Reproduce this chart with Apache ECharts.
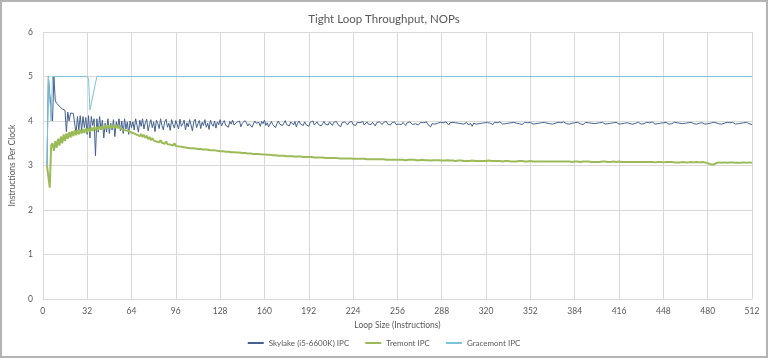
<!DOCTYPE html>
<html>
<head>
<meta charset="utf-8">
<script src="https://cdn.jsdelivr.net/npm/echarts@6/dist/echarts.min.js"></script>
<style>
html,body{margin:0;padding:0;background:#fff;}
#chart{width:768px;height:358px;}
</style>
</head>
<body>
<div id="chart"></div>
<script>
// Loop sizes start at 3 and step by 1 up to 512
const loopStart = 3;
const xTicks = [0,32,64,96,128,160,192,224,256,288,320,352,384,416,448,480,512];
const seriesNames = ['Skylake (i5-6600K) IPC', 'Tremont IPC', 'Gracemont IPC'];

const skylakeIPC = [
3.00,5.00,4.60,4.30,4.00,5.00,4.45,4.40,4.37,4.33,4.30,4.27,4.25,4.24,3.76,4.20,
4.00,4.18,4.18,4.17,4.17,3.72,4.10,3.80,4.12,3.78,4.10,3.85,4.08,3.70,4.12,3.62,
4.10,3.90,4.05,3.22,4.05,3.75,4.10,3.80,4.02,3.62,3.95,3.75,4.05,3.72,3.95,3.80,
4.03,3.65,3.98,3.85,4.05,3.78,4.00,3.72,4.05,3.82,3.98,3.70,4.00,3.85,
3.98,3.80,4.05,3.90,3.75,4.02,3.88,4.05,3.82,3.96,4.04,3.78,3.92,4.03,3.85,3.98,
3.76,4.02,3.94,3.83,4.05,3.90,3.80,3.99,4.04,3.86,3.95,3.79,4.03,3.92,3.84,4.01,
3.97,3.82,4.04,3.88,3.93,4.02,3.80,3.96,3.87,4.03,3.91,3.78,3.99,4.04,3.85,3.94,
4.01,3.83,3.97,3.90,4.03,3.86,3.95,3.81,4.02,3.93,3.88,4.00,3.84,3.98,3.92,4.03,
3.89,3.96,4.01,3.90,3.94,3.86,3.99,3.93,4.02,3.91,3.88,3.97,3.94,4.00,3.87,3.95,
3.92,4.01,3.96,3.89,3.94,3.98,3.86,3.93,4.00,3.95,3.91,3.97,3.88,3.99,3.94,4.02,
3.90,3.96,3.87,3.93,3.99,3.92,3.96,3.85,3.94,4.00,3.93,3.97,3.90,3.95,4.01,3.92,
3.96,3.89,3.98,3.94,3.91,3.99,3.87,3.95,4.00,3.93,3.96,3.90,3.98,3.92,3.95,3.88,
3.97,3.93,4.00,3.91,3.95,3.98,3.92,3.96,3.89,3.94,3.99,3.93,3.96,3.91,3.98,3.94,
3.90,3.97,3.95,3.99,3.92,3.94,3.87,3.96,3.93,3.98,3.95,3.91,3.97,3.94,3.99,3.92,
3.95,3.90,3.97,3.94,3.96,3.93,3.99,3.91,3.95,3.98,3.93,3.96,3.92,3.97,3.94,3.89,
3.96,3.93,3.98,3.95,3.92,3.97,3.94,3.99,3.93,3.95,3.91,3.96,3.94,3.98,3.92,3.95,
3.93,3.96,3.92,3.97,3.94,3.90,3.96,3.93,3.98,3.95,3.92,3.96,3.94,3.97,3.91,3.95,
3.97,3.93,3.96,3.94,3.98,3.92,3.95,3.87,3.94,3.97,3.93,3.96,3.95,3.92,3.97,3.94,
3.96,3.93,3.98,3.94,3.91,3.96,3.95,3.97,3.93,3.96,3.92,3.95,3.98,3.94,3.96,3.93,
3.95,3.97,3.92,3.96,3.94,3.88,3.95,3.97,3.93,3.96,3.94,3.98,3.95,3.92,3.96,3.94,
3.97,3.93,3.95,3.96,3.92,3.97,3.94,3.96,3.93,3.98,3.95,3.93,3.96,3.94,3.97,3.95,
3.92,3.96,3.94,3.97,3.93,3.95,3.98,3.94,3.96,3.92,3.95,3.97,3.94,3.96,3.93,3.97,
3.95,3.93,3.96,3.94,3.98,3.95,3.92,3.96,3.94,3.97,3.93,3.95,3.96,3.94,3.97,3.93,
3.96,3.95,3.92,3.97,3.94,3.96,3.93,3.98,3.95,3.94,3.96,3.93,3.97,3.95,3.94,3.96,
3.93,3.97,3.95,3.94,3.96,3.92,3.95,3.97,3.94,3.96,3.93,3.95,3.98,3.94,3.96,3.95,
3.93,3.96,3.94,3.97,3.95,3.93,3.96,3.94,3.98,3.95,3.93,3.96,3.94,3.97,3.95,3.93,
3.96,3.94,3.97,3.95,3.93,3.96,3.95,3.94,3.97,3.93,3.96,3.95,3.94,3.97,3.95,3.93,
3.96,3.94,3.95,3.97,3.93,3.96,3.94,3.98,3.95,3.93,3.96,3.94,3.97,3.95,3.92,3.96,
3.94,3.97,3.95,3.93,3.96,3.94,3.95,3.97,3.94,3.96,3.93,3.95,3.97,3.94,3.96,3.95,
3.93,3.96,3.94,3.97,3.95,3.94,3.96,3.93,3.97,3.95,3.94,3.96,3.95,3.93,3.97,3.94,
3.96,3.95,3.93,3.97,3.94,3.96,3.95,3.94,3.97,3.93,3.96,3.95,3.94,3.97,3.95,3.96,
3.94,3.97,3.95,3.93,3.96,3.94,3.97,3.95,3.94,3.96,3.93,3.97,3.95,3.94,3.98,3.92
];

const tremontIPC = [
3.00,2.75,2.50,3.45,3.50,3.33,3.55,3.40,3.60,3.45,3.65,3.50,3.70,3.55,3.72,3.60,
3.75,3.63,3.77,3.66,3.79,3.68,3.80,3.70,3.81,3.72,3.82,3.73,3.83,3.75,3.84,3.76,
3.85,3.78,3.86,3.79,3.87,3.80,3.88,3.81,3.89,3.82,3.90,3.83,3.90,3.84,3.91,3.85,
3.91,3.85,3.90,3.84,3.89,3.83,3.87,3.81,3.85,3.79,3.83,3.77,3.80,3.74,
3.78,3.72,3.76,3.69,3.73,3.66,3.71,3.64,3.69,3.62,3.67,3.59,3.64,3.57,3.62,3.56,
3.60,3.54,3.58,3.52,3.57,3.51,3.55,3.49,3.54,3.48,3.52,3.47,3.51,3.45,3.50,3.44,
3.48,3.43,3.47,3.42,3.46,3.41,3.45,3.40,3.44,3.39,3.43,3.39,3.42,3.38,3.41,3.37,
3.41,3.37,3.40,3.36,3.39,3.36,3.38,3.35,3.38,3.34,3.37,3.34,3.36,3.33,3.36,3.32,
3.35,3.32,3.34,3.31,3.34,3.31,3.33,3.30,3.33,3.30,3.32,3.29,3.32,3.29,3.31,3.28,
3.31,3.28,3.30,3.27,3.30,3.27,3.29,3.26,3.29,3.26,3.28,3.26,3.28,3.25,3.27,3.25,
3.27,3.24,3.26,3.24,3.26,3.23,3.25,3.23,3.25,3.22,3.24,3.22,3.24,3.22,3.23,3.21,
3.23,3.21,3.23,3.21,3.22,3.20,3.22,3.20,3.22,3.20,3.21,3.19,3.21,3.19,3.21,3.19,
3.20,3.19,3.20,3.18,3.20,3.18,3.20,3.18,3.19,3.18,3.19,3.17,3.19,3.17,3.19,3.17,
3.18,3.17,3.18,3.17,3.18,3.16,3.18,3.16,3.17,3.16,3.17,3.16,3.17,3.16,3.17,3.15,
3.17,3.15,3.16,3.15,3.16,3.15,3.16,3.15,3.16,3.14,3.16,3.14,3.15,3.14,3.15,3.14,
3.15,3.14,3.15,3.14,3.15,3.14,3.15,3.13,3.15,3.13,3.14,3.13,3.14,3.13,3.14,3.13,
3.14,3.13,3.14,3.13,3.13,3.12,3.13,3.13,3.12,3.13,3.12,3.13,3.12,3.12,3.13,3.12,
3.12,3.13,3.12,3.12,3.11,3.12,3.12,3.11,3.12,3.12,3.11,3.12,3.11,3.12,3.11,3.11,
3.12,3.11,3.11,3.12,3.11,3.11,3.12,3.11,3.11,3.10,3.11,3.11,3.10,3.11,3.11,3.10,
3.11,3.10,3.11,3.10,3.10,3.11,3.10,3.10,3.11,3.10,3.10,3.10,3.11,3.10,3.10,3.10,
3.10,3.11,3.10,3.10,3.09,3.10,3.10,3.10,3.09,3.10,3.10,3.09,3.10,3.10,3.09,3.10,
3.10,3.09,3.10,3.09,3.10,3.09,3.09,3.10,3.09,3.10,3.09,3.09,3.10,3.09,3.09,3.10,
3.09,3.09,3.10,3.09,3.09,3.09,3.10,3.09,3.09,3.09,3.08,3.09,3.09,3.09,3.10,3.09,
3.09,3.09,3.08,3.09,3.09,3.09,3.08,3.09,3.09,3.09,3.08,3.09,3.09,3.08,3.09,3.09,
3.08,3.09,3.09,3.08,3.09,3.09,3.08,3.09,3.08,3.09,3.09,3.08,3.09,3.08,3.09,3.08,
3.09,3.08,3.08,3.09,3.08,3.09,3.08,3.08,3.09,3.08,3.08,3.09,3.08,3.08,3.08,3.09,
3.08,3.08,3.09,3.08,3.08,3.08,3.07,3.08,3.08,3.08,3.09,3.08,3.08,3.08,3.07,3.08,
3.08,3.08,3.07,3.08,3.08,3.08,3.07,3.08,3.08,3.07,3.08,3.08,3.07,3.08,3.08,3.07,
3.08,3.08,3.07,3.08,3.07,3.08,3.08,3.07,3.08,3.07,3.08,3.07,3.07,3.08,3.07,3.07,
3.08,3.07,3.07,3.08,3.07,3.07,3.07,3.08,3.07,3.07,3.07,3.08,3.07,3.07,3.06,3.05,
3.04,3.03,3.02,3.02,3.03,3.05,3.06,3.07,3.07,3.06,3.07,3.07,3.07,3.06,3.07,3.07,
3.06,3.07,3.07,3.06,3.07,3.06,3.07,3.06,3.06,3.07,3.06,3.06,3.06,3.07,3.06,3.06
];

// Gracemont: loop size / IPC at the points where the line changes
const gracemontSizes = [3, 4, 5, 6, 7, 32, 33, 34, 39, 512];
const gracemontIPC   = [3.0, 5.0, 4.5, 4.0, 5.0, 5.0, 4.95, 4.25, 5.0, 5.0];

const toPairs = (vals) => vals.map((v, i) => [loopStart + i, v]);
const gracemontPairs = gracemontSizes.map((s, i) => [s, gracemontIPC[i]]);

const FONT = 'Lato, "Open Sans", sans-serif';
const TXT = '#595959';

const chart = echarts.init(document.getElementById('chart'), null, {renderer: 'canvas'});
chart.setOption({
  animation: false,
  backgroundColor: '#ffffff',
  title: {
    text: 'Tight Loop Throughput, NOPs',
    left: 'center', top: 8,
    textStyle: {fontFamily: FONT, fontSize: 11.5, fontWeight: 'normal', color: TXT}
  },
  graphic: [{
    type: 'rect', silent: true,
    shape: {x: 1, y: 1, width: 766, height: 356},
    style: {fill: 'none', stroke: '#b3b3b3', lineWidth: 2}
  }],
  legend: {
    bottom: 6, left: 'center',
    itemWidth: 16, itemHeight: 2, itemGap: 16,
    icon: 'rect',
    textStyle: {fontFamily: FONT, fontSize: 8, color: TXT},
    data: seriesNames
  },
  grid: {left: 36, right: 16, top: 32, bottom: 59, containLabel: false},
  xAxis: {
    type: 'value', min: xTicks[0], max: xTicks[xTicks.length - 1], interval: 32,
    name: 'Loop Size (Instructions)', nameLocation: 'middle', nameGap: 21,
    nameTextStyle: {fontFamily: FONT, fontSize: 8.5, color: TXT},
    axisLine: {show: true, lineStyle: {color: '#d9d9d9'}},
    axisTick: {show: false},
    axisLabel: {fontFamily: FONT, fontSize: 8.5, color: TXT, margin: 8},
    splitLine: {show: true, lineStyle: {color: '#d9d9d9', width: 1}}
  },
  yAxis: {
    type: 'value', min: 0, max: 6, interval: 1,
    name: 'Instructions Per Clock', nameLocation: 'middle', nameGap: 21,
    nameTextStyle: {fontFamily: FONT, fontSize: 8.5, color: TXT},
    axisLine: {show: false}, axisTick: {show: false},
    axisLabel: {fontFamily: FONT, fontSize: 8.5, color: TXT, margin: 10},
    splitLine: {show: true, lineStyle: {color: '#d9d9d9', width: 1}}
  },
  series: [
    {
      name: seriesNames[0], type: 'line', data: toPairs(skylakeIPC),
      showSymbol: false, symbol: 'none',
      lineStyle: {color: '#44618f', width: 1}, itemStyle: {color: '#44618f'}
    },
    {
      name: seriesNames[1], type: 'line', data: toPairs(tremontIPC),
      showSymbol: false, symbol: 'none',
      lineStyle: {color: '#9bbb59', width: 2}, itemStyle: {color: '#9bbb59'}
    },
    {
      name: seriesNames[2], type: 'line', data: gracemontPairs,
      showSymbol: false, symbol: 'none',
      lineStyle: {color: '#7cc3d8', width: 1}, itemStyle: {color: '#7cc3d8'}
    }
  ]
});
</script>
</body>
</html>
